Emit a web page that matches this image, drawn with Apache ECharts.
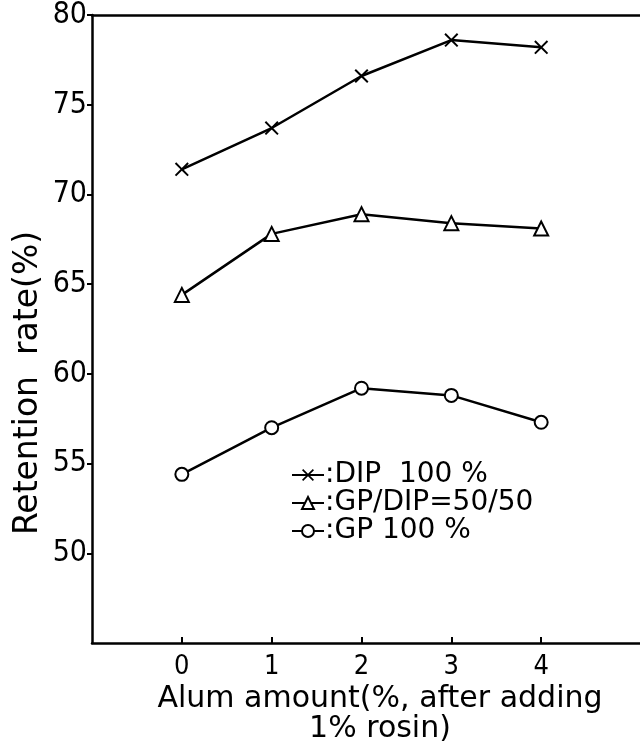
<!DOCTYPE html>
<html>
<head>
<meta charset="utf-8">
<script src="https://cdn.jsdelivr.net/npm/echarts@6/dist/echarts.min.js"></script>
<style>
  html, body { margin: 0; padding: 0; background: #fff; }
  #chart { width: 640px; height: 746px; }
</style>
</head>
<body>
<div id="chart"></div>
<script>
  // 横轴：明矾添加量
  var alumAmount = [0, 1, 2, 3, 4];
  // 保留率 (%)
  var dip100 = [71.4, 73.7, 76.6, 78.6, 78.2];
  var gpDip5050 = [64.4, 67.8, 68.9, 68.4, 68.1];
  var gp100 = [54.4, 57.0, 59.2, 58.8, 57.3];
  var seriesNames = [':DIP  100 %', ':GP/DIP=50/50', ':GP 100 %'];
  var yTicks = [50, 55, 60, 65, 70, 75, 80];

  var narrow = "'DejaVu Sans Condensed', sans-serif";
  var wide = "'DejaVu Sans', sans-serif";
  var crossPath = 'path://M0,1L1,0L5,4L9,0L10,1L6,5L10,9L9,10L5,6L1,10L0,9L4,5Z';

  function pairs(vals) {
    return alumAmount.map(function (x, i) { return [x, vals[i]]; });
  }

  var myChart = echarts.init(document.getElementById('chart'));
  var option = {
    backgroundColor: '#fff',
    animation: false,
    textStyle: { fontFamily: narrow, color: '#000' },
    grid: { left: 92, right: 0, top: 14, bottom: 103 },
    legend: {
      orient: 'vertical',
      left: 286,
      top: 456,
      itemWidth: 32,
      itemHeight: 15,
      itemGap: 0,
      textStyle: { fontSize: 28, lineHeight: 25, fontFamily: wide, color: '#000', padding: [0, 0, 0, -4] },
      data: seriesNames
    },
    xAxis: [{
      type: 'value',
      min: -1,
      max: 5.1,
      interval: 1,
      splitLine: { show: false },
      axisLine: { onZero: false, lineStyle: { color: '#000', width: 2.5 } },
      axisTick: { inside: true, length: 6, lineStyle: { width: 2 }, customValues: alumAmount },
      axisLabel: { fontSize: 27, color: '#000', margin: 10, customValues: alumAmount }
    }, {
      type: 'value',
      position: 'top',
      min: -1,
      max: 5.1,
      splitLine: { show: false },
      axisLine: { onZero: false, lineStyle: { color: '#000', width: 2.5 } },
      axisTick: { show: false },
      axisLabel: { show: false }
    }],
    yAxis: {
      type: 'value',
      min: 45,
      max: 80,
      interval: 5,
      splitLine: { show: false },
      axisLine: { onZero: false, lineStyle: { color: '#000', width: 2.5 } },
      axisTick: { length: 5, lineStyle: { width: 2 }, customValues: yTicks },
      axisLabel: { fontSize: 30, color: '#000', margin: 5, customValues: yTicks }
    },
    graphic: [{
      type: 'text',
      x: 380,
      y: 714,
      style: {
        text: 'Alum amount(%, after adding\n1% rosin)',
        fontFamily: wide, fontSize: 30, fill: '#000',
        align: 'center', verticalAlign: 'middle', lineHeight: 30
      }
    }, {
      type: 'text',
      x: 28,
      y: 383,
      rotation: Math.PI / 2,
      style: {
        text: 'Retention  rate(%)',
        fontFamily: wide, fontSize: 33, fill: '#000',
        align: 'center', verticalAlign: 'middle'
      }
    }],
    series: [{
      name: seriesNames[0],
      type: 'line',
      data: pairs(dip100),
      symbol: crossPath,
      symbolSize: 14,
      lineStyle: { color: '#000', width: 2.5 },
      itemStyle: { color: '#000' }
    }, {
      name: seriesNames[1],
      type: 'line',
      data: pairs(gpDip5050),
      symbol: 'emptyTriangle',
      symbolSize: 14,
      lineStyle: { color: '#000', width: 2.5 },
      itemStyle: { color: '#000', borderWidth: 3 }
    }, {
      name: seriesNames[2],
      type: 'line',
      data: pairs(gp100),
      symbol: 'emptyCircle',
      symbolSize: 13,
      lineStyle: { color: '#000', width: 2.5 },
      itemStyle: { color: '#000', borderWidth: 2.5 }
    }]
  };
  myChart.setOption(option);
</script>
</body>
</html>
